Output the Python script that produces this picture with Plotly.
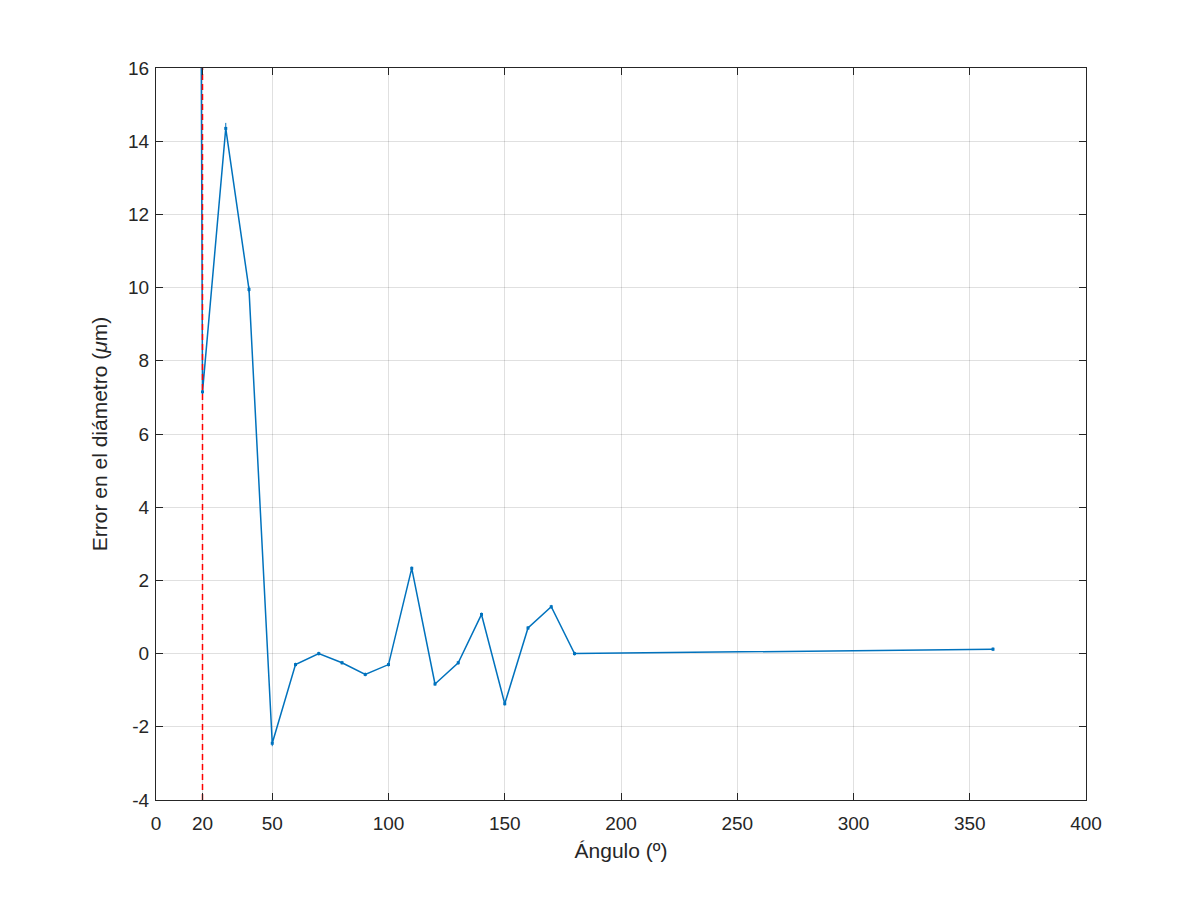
import plotly.graph_objects as go

angles = [10, 20, 30, 40, 50, 60, 70, 80, 90, 100, 110, 120, 130, 140, 150, 160, 170, 180, 360]
errors = [180.0, 7.15, 14.35, 9.95, -2.45, -0.3, 0.0, -0.25, -0.57, -0.3, 2.33, -0.83, -0.25, 1.07, -1.37, 0.7, 1.28, 0.0, 0.12]
err_bar = [1.0, 0.1, 0.15, 0.08, 0.08, 0.05, 0.05, 0.05, 0.05, 0.05, 0.05, 0.05, 0.05, 0.05, 0.05, 0.05, 0.05, 0.05, 0.05]
cut_angle = 20
x_ticks = [0, 20, 50, 100, 150, 200, 250, 300, 350, 400]
y_ticks = [-4, -2, 0, 2, 4, 6, 8, 10, 12, 14, 16]

blue = "#0072BD"
txt = "#262626"
font_fam = "Liberation Sans, Arial"

fig = go.Figure()
fig.add_trace(go.Scatter(
    x=angles, y=errors, mode="lines+markers",
    line=dict(color=blue, width=1.5),
    marker=dict(color=blue, size=3, symbol="square"),
    error_y=dict(type="data", array=err_bar, color=blue, thickness=1, width=0),
    showlegend=False,
))
fig.add_trace(go.Scatter(
    x=[cut_angle, cut_angle], y=[y_ticks[0], y_ticks[-1]], mode="lines",
    line=dict(color="red", width=1.5, dash="6px,4px"),
    showlegend=False,
))

axis_common = dict(
    showline=True, linecolor=txt, linewidth=1, mirror="ticks",
    ticks="inside", ticklen=7, tickcolor=txt,
    showgrid=True, gridcolor="rgba(0,0,0,0.12)", gridwidth=1,
    zeroline=False,
    tickfont=dict(family=font_fam, size=19, color=txt),
)
fig.update_xaxes(range=[0, 400], tickvals=x_ticks, ticktext=[str(v) for v in x_ticks],
                 ticklabelstandoff=6,
                 title=dict(text="Ángulo (º)", font=dict(family=font_fam, size=21, color=txt), standoff=10),
                 **axis_common)
fig.update_yaxes(range=[-4, 16], tickvals=y_ticks, ticktext=[str(v) for v in y_ticks],
                 ticklabelstandoff=2,
                 title=dict(text="Error en el diámetro (<i>μ</i>m)", font=dict(family=font_fam, size=21, color=txt), standoff=14),
                 **axis_common)
fig.update_layout(
    width=1200, height=900,
    margin=dict(l=148, r=122, t=60, b=108),
    plot_bgcolor="white", paper_bgcolor="white",
)
fig.write_html("out.html")
